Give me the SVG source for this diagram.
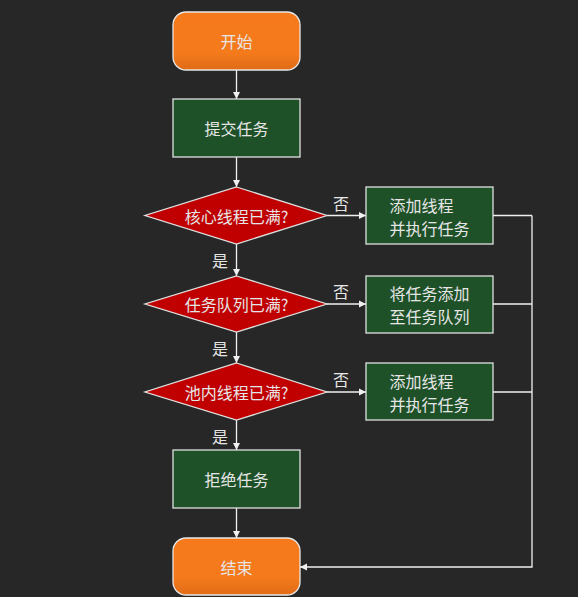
<svg xmlns="http://www.w3.org/2000/svg" width="578" height="597" viewBox="0 0 578 597">
<style>
text{font-family:"Noto Sans CJK SC","Noto Sans",sans-serif;font-size:16px;fill:#e6e6e6;text-anchor:middle;dominant-baseline:central}
.term{fill:url(#og);stroke:#e8e8e8;stroke-width:1.3}
.proc{fill:#1e5128;stroke:#e0e0e0;stroke-width:1.3}
.dec{fill:#c00000;stroke:#e0e0e0;stroke-width:1.3}
.c{stroke:#f0f0f0;stroke-width:1.3;fill:none}
.a{marker-end:url(#ar)}
</style>
<defs>
<linearGradient id="og" x1="0" y1="0" x2="0" y2="1"><stop offset="0" stop-color="#f67a1c"/><stop offset="0.7" stop-color="#f47a1c"/><stop offset="1" stop-color="#e06c16"/></linearGradient>
<marker id="ar" markerWidth="8" markerHeight="8" refX="7" refY="4" orient="auto" markerUnits="userSpaceOnUse"><path d="M0,0.5 L7,4 L0,7.5 Z" fill="#f0f0f0"/></marker>
</defs>
<rect width="578" height="597" fill="#272727"/>
<g id="connectors">
<line class="c a" x1="236.5" y1="70" x2="236.5" y2="99"/>
<line class="c a" x1="236.5" y1="157" x2="236.5" y2="187"/>
<line class="c a" x1="236.5" y1="244" x2="236.5" y2="276"/>
<line class="c a" x1="236.5" y1="332" x2="236.5" y2="363"/>
<line class="c a" x1="236.5" y1="420" x2="236.5" y2="450"/>
<line class="c a" x1="236.5" y1="508" x2="236.5" y2="538"/>
<line class="c a" x1="327" y1="215.5" x2="366" y2="215.5"/>
<line class="c a" x1="327" y1="304" x2="366" y2="304"/>
<line class="c a" x1="327" y1="392" x2="366" y2="392"/>
<polyline class="c" points="493,215.5 532,215.5"/>
<polyline class="c" points="493,304 532,304"/>
<polyline class="c" points="493,392 532,392"/>
<polyline class="c a" points="532,215.5 532,567 300,567"/>
<text x="341" y="203">否</text>
<text x="341" y="291">否</text>
<text x="341" y="379">否</text>
<text x="220" y="260">是</text>
<text x="220" y="348">是</text>
<text x="220" y="436">是</text>
</g>
<g id="start"><rect class="term" x="173" y="12" width="127" height="58" rx="13"/><text x="236.5" y="41">开始</text></g>
<g id="submit"><rect class="proc" x="173" y="99" width="127" height="58"/><text x="236.5" y="128">提交任务</text></g>
<g id="d1"><polygon class="dec" points="236.5,187 327,215.5 236.5,244 145,215.5"/><text x="236.5" y="215.5">核心线程已满?</text></g>
<g id="b1"><rect class="proc" x="366" y="187" width="127" height="57"/><text x="429.5" y="205" style="text-anchor:start" dx="-40">添加线程</text><text x="429.5" y="228" style="text-anchor:start" dx="-40">并执行任务</text></g>
<g id="d2"><polygon class="dec" points="236.5,276 327,304 236.5,332 145,304"/><text x="236.5" y="304">任务队列已满?</text></g>
<g id="b2"><rect class="proc" x="366" y="276" width="127" height="57"/><text x="429.5" y="293" style="text-anchor:start" dx="-40">将任务添加</text><text x="429.5" y="316" style="text-anchor:start" dx="-40">至任务队列</text></g>
<g id="d3"><polygon class="dec" points="236.5,363 327,392 236.5,420 145,392"/><text x="236.5" y="392">池内线程已满?</text></g>
<g id="b3"><rect class="proc" x="366" y="363" width="127" height="57"/><text x="429.5" y="381" style="text-anchor:start" dx="-40">添加线程</text><text x="429.5" y="404" style="text-anchor:start" dx="-40">并执行任务</text></g>
<g id="reject"><rect class="proc" x="173" y="450" width="127" height="58"/><text x="236.5" y="479">拒绝任务</text></g>
<g id="end"><rect class="term" x="173" y="538" width="127" height="57" rx="13"/><text x="236.5" y="566.5">结束</text></g>
</svg>
